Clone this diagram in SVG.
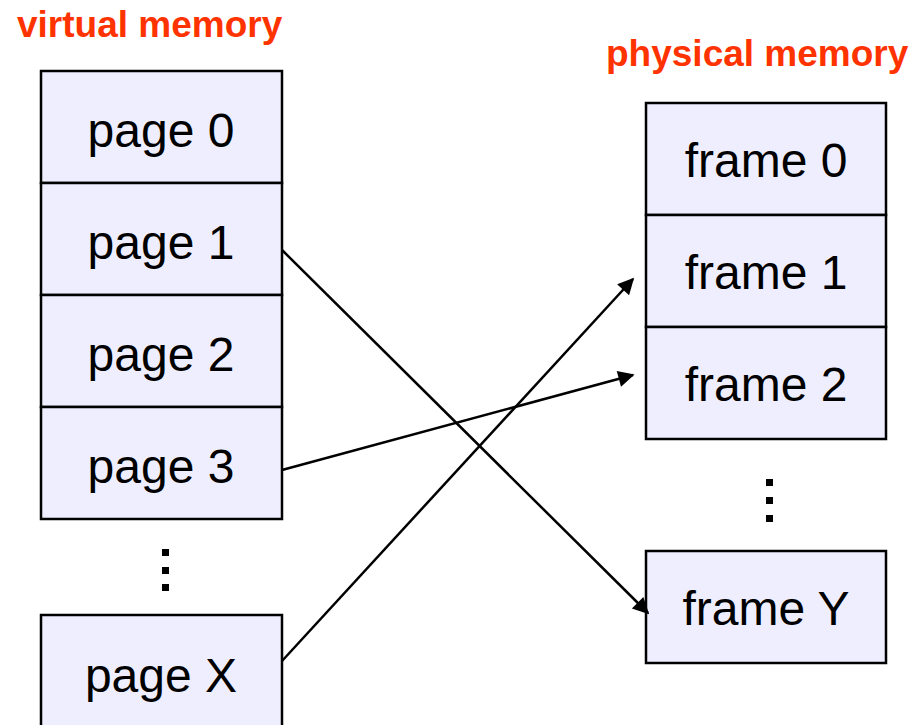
<svg xmlns="http://www.w3.org/2000/svg" width="913" height="725" viewBox="0 0 913 725">
<style>
.box{fill:#eeeeff;stroke:#000;stroke-width:2.5}
.lbl{font-family:"Liberation Sans",Arial,sans-serif;font-size:48px;fill:#000;text-anchor:middle}
.ttl{font-family:"Liberation Sans",Arial,sans-serif;font-size:37px;font-weight:bold;fill:#ff3300}
.con{stroke:#000;stroke-width:2.5;fill:none;marker-end:url(#ah)}
.dot{fill:#000}
</style>
<defs>
<marker id="ah" viewBox="0 0 10 10" refX="9" refY="5" markerWidth="7.5" markerHeight="6.5" markerUnits="strokeWidth" orient="auto">
<path d="M0,0 L10,5 L0,10 z" fill="#000"/>
</marker>
</defs>
<text class="ttl" x="17" y="37">virtual memory</text>
<text class="ttl" x="606" y="66">physical memory</text>
<g id="page0"><rect class="box" x="41" y="71" width="241" height="112"/><text class="lbl" x="161" y="147">page 0</text></g>
<g id="page1"><rect class="box" x="41" y="183" width="241" height="112"/><text class="lbl" x="161" y="259">page 1</text></g>
<g id="page2"><rect class="box" x="41" y="295" width="241" height="112"/><text class="lbl" x="161" y="371">page 2</text></g>
<g id="page3"><rect class="box" x="41" y="407" width="241" height="112"/><text class="lbl" x="161" y="483">page 3</text></g>
<g id="pageX"><rect class="box" x="41" y="615" width="241" height="120"/><text class="lbl" x="161" y="692">page X</text></g>
<g id="vdots"><rect class="dot" x="162" y="549" width="7" height="7"/><rect class="dot" x="162" y="567" width="7" height="7"/><rect class="dot" x="162" y="584" width="7" height="7"/></g>
<g id="frame0"><rect class="box" x="646" y="103" width="240" height="112"/><text class="lbl" x="766" y="177">frame 0</text></g>
<g id="frame1"><rect class="box" x="646" y="215" width="240" height="112"/><text class="lbl" x="766" y="289">frame 1</text></g>
<g id="frame2"><rect class="box" x="646" y="327" width="240" height="112"/><text class="lbl" x="766" y="401">frame 2</text></g>
<g id="frameY"><rect class="box" x="646" y="551" width="240" height="112"/><text class="lbl" x="766" y="625">frame Y</text></g>
<g id="pdots"><rect class="dot" x="766" y="479" width="7" height="7"/><rect class="dot" x="766" y="497" width="7" height="7"/><rect class="dot" x="766" y="515" width="7" height="7"/></g>
<g id="connectors">
<line class="con" x1="282" y1="250" x2="648" y2="613"/>
<line class="con" x1="282" y1="470" x2="633" y2="375"/>
<line class="con" x1="282" y1="661" x2="633" y2="279"/>
</g>
</svg>
